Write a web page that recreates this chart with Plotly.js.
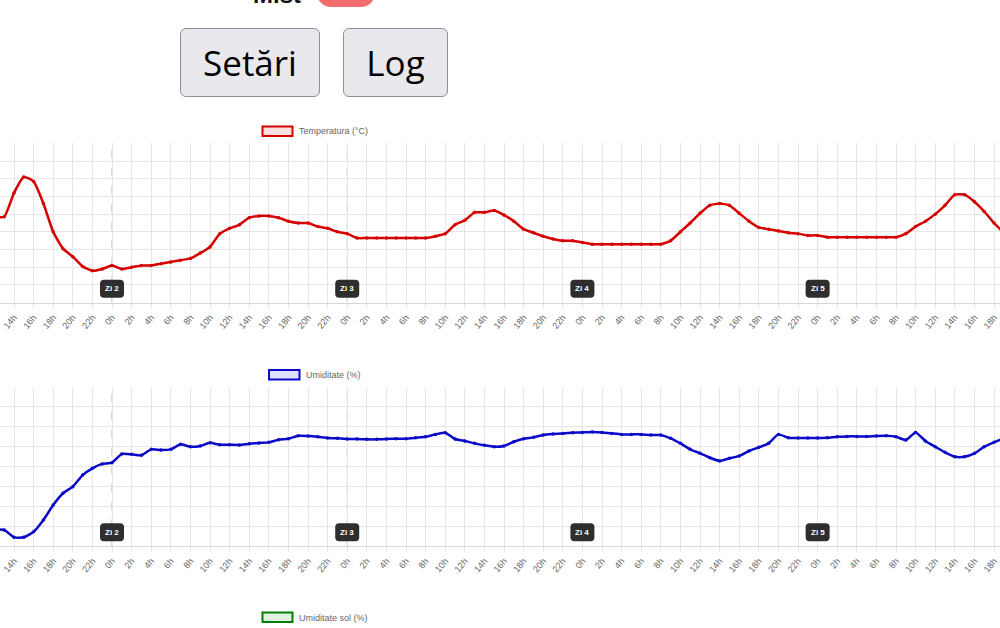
<!DOCTYPE html>
<html>
<head>
<meta charset="utf-8">
<script src="https://cdn.plot.ly/plotly-3.0.1.min.js"></script>
<style>
html,body{margin:0;padding:0;width:1000px;height:628px;overflow:hidden;background:#fff;}
#chart{position:absolute;left:0;top:0;width:1000px;height:628px;}
.btn{position:absolute;top:28px;height:69px;box-sizing:border-box;background:#e9e9ed;border:1px solid #8f8f9d;border-radius:6px;font-family:'Open Sans',sans-serif;font-size:35px;color:#000;display:flex;align-items:center;justify-content:center;z-index:2;}
#mist{position:absolute;left:253px;top:-17px;font-family:'Liberation Sans',Arial,sans-serif;font-weight:bold;font-size:24px;line-height:24px;color:#111;z-index:2;}
#toggle{position:absolute;left:317px;top:-21px;width:58px;height:28px;border-radius:14px;background:#f26d6d;z-index:2;}
</style>
</head>
<body>
<div id="mist">Mist</div>
<div id="toggle"></div>
<div class="btn" style="left:180px;width:140px;">Setări</div>
<div class="btn" style="left:343px;width:105px;">Log</div>
<div id="chart"></div>
<script>
// hour index counted from 0h of day 1 (24 = 0h of "Zi 2")
const hours = [];
for (let h = 12; h <= 115; h++) hours.push(h);

const temperatura = [
  25.7, 25.7, 28.4, 30.2, 29.7, 27.2, 24.0, 22.1, 21.2, 20.1, 19.6, 19.8,
  20.2, 19.8, 20.0, 20.2, 20.2, 20.4, 20.6, 20.8, 21.0, 21.6, 22.3, 23.8,
  24.4, 24.8, 25.6, 25.8, 25.8, 25.6, 25.2, 25.0, 25.0, 24.6, 24.4, 24.0,
  23.8, 23.3, 23.3, 23.3, 23.3, 23.3, 23.3, 23.3, 23.3, 23.5, 23.8, 24.8,
  25.3, 26.2, 26.2, 26.4, 25.9, 25.2, 24.3, 23.9, 23.5, 23.2, 23.0, 23.0,
  22.8, 22.6, 22.6, 22.6, 22.6, 22.6, 22.6, 22.6, 22.6, 23.0, 24.0, 25.0,
  26.1, 27.0, 27.2, 27.0, 26.1, 25.2, 24.5, 24.3, 24.1, 23.9, 23.8, 23.6,
  23.6, 23.4, 23.4, 23.4, 23.4, 23.4, 23.4, 23.4, 23.4, 23.8, 24.6, 25.2,
  26.0, 27.0, 28.2, 28.2, 27.4, 26.3, 25.0, 23.9
];

const umiditate = [
  28.5, 28.2, 24.5, 24.5, 27.3, 33.2, 40.7, 46.6, 49.9, 55.7, 59.1, 61.3,
  61.9, 66.3, 66.1, 65.6, 68.6, 68.3, 68.6, 71.1, 69.9, 70.3, 71.9, 70.9,
  70.9, 70.8, 71.4, 71.8, 72.1, 73.4, 73.9, 75.4, 75.3, 74.9, 74.3, 74.1,
  73.8, 73.8, 73.6, 73.6, 73.8, 73.9, 73.9, 74.4, 74.9, 76.1, 76.9, 73.8,
  72.8, 71.6, 70.6, 69.9, 70.3, 72.4, 73.9, 74.6, 75.8, 76.3, 76.6, 76.9,
  77.1, 77.3, 77.1, 76.6, 76.1, 76.1, 76.1, 75.8, 75.8, 74.1, 71.6, 68.6,
  66.6, 64.4, 62.8, 64.1, 65.3, 67.8, 69.6, 71.6, 76.1, 74.4, 74.3, 74.3,
  74.3, 74.4, 74.9, 75.1, 75.1, 75.1, 75.3, 75.4, 74.9, 73.3, 77.1, 72.8,
  69.9, 67.1, 64.9, 64.9, 66.6, 69.9, 72.1, 74.1
];

const dayHours = [24, 48, 72, 96];
const dayLabels = ['Zi 2', 'Zi 3', 'Zi 4', 'Zi 5'];

const tickHours = [];
for (let h = 14; h <= 114; h += 2) tickHours.push(h);
const tickLabels = tickHours.map(h => (h % 24) + 'h');

const legendNames = ['Temperatura (°C)', 'Umiditate (%)', 'Umiditate sol (%)'];

const FONT = 'Liberation Sans, Arial, sans-serif';
const gridC = '#e6e6e6';

function xAxis(anchor) {
  return {
    range: [12.57, 114.61], tickmode: 'array', tickvals: tickHours, ticktext: tickLabels,
    tickangle: -50, tickfont: {family: FONT, size: 9, color: '#666'},
    showgrid: true, gridcolor: gridC, gridwidth: 1, zeroline: false,
    showline: true, linecolor: '#d6d6d6', ticks: 'outside', ticklen: 5, tickcolor: gridC,
    anchor: anchor, fixedrange: true
  };
}
function yAxis(domain, range, dtick, anchor) {
  return {
    domain: domain, range: range, dtick: dtick, tick0: range[0], showgrid: true, gridcolor: gridC,
    zeroline: false, showticklabels: false, showline: false, anchor: anchor, fixedrange: true
  };
}

const traces = [
  {x: hours, y: temperatura, xaxis: 'x', yaxis: 'y', type: 'scatter', mode: 'lines+markers',
   line: {color: 'rgb(215,0,0)', width: 2.5, shape: 'spline', smoothing: 0.5},
   marker: {color: 'rgb(215,0,0)', size: 3.5}, cliponaxis: true, showlegend: false},
  {x: hours, y: umiditate, xaxis: 'x2', yaxis: 'y2', type: 'scatter', mode: 'lines+markers',
   line: {color: 'rgb(10,10,200)', width: 2.5, shape: 'spline', smoothing: 0.5},
   marker: {color: 'rgb(10,10,200)', size: 3.5}, cliponaxis: true, showlegend: false}
];

const shapes = [];
const annotations = [];
const boxPath = 'M -8,5 L 8,5 Q 12,5 12,9 L 12,19 Q 12,23 8,23 L -8,23 Q -12,23 -12,19 L -12,9 Q -12,5 -8,5 Z';
[['x', 'y'], ['x2', 'y2']].forEach(([xa, ya]) => {
  dayHours.forEach((d, i) => {
    shapes.push({type: 'line', xref: xa, yref: ya + ' domain', x0: d, x1: d, y0: 0, y1: 1,
      line: {color: '#b4b4b4', width: 1, dash: 'dash'}, layer: 'below'});
    shapes.push({type: 'path', xref: xa, xsizemode: 'pixel', xanchor: d,
      yref: ya + ' domain', ysizemode: 'pixel', yanchor: 0, path: boxPath,
      fillcolor: '#2e2e2e', line: {width: 0}});
    annotations.push({x: d, xref: xa, y: 0, yref: ya + ' domain', yshift: 14, yanchor: 'middle',
      text: '<b>' + dayLabels[i] + '</b>', showarrow: false,
      font: {family: FONT, size: 8, color: '#fff'}});
  });
});

// legends (Chart.js style boxes)
const legendPos = [
  {bx0: 262.5, bx1: 292.5, by0: 126.5, by1: 136, tx: 297, ty: 131.3, stroke: 'rgb(215,0,0)', fill: 'rgba(255,0,0,0.12)'},
  {bx0: 269, bx1: 299.5, by0: 370, by1: 379.5, tx: 304, ty: 375, stroke: 'rgb(10,10,200)', fill: 'rgba(0,0,255,0.12)'},
  {bx0: 262.5, bx1: 292.5, by0: 612.5, by1: 622, tx: 297, ty: 617.5, stroke: 'rgb(0,128,0)', fill: 'rgba(0,160,0,0.12)'}
];
legendPos.forEach((p, i) => {
  shapes.push({type: 'rect', xref: 'paper', yref: 'paper', x0: p.bx0 / 1000, x1: p.bx1 / 1000,
    y0: 1 - p.by1 / 628, y1: 1 - p.by0 / 628, fillcolor: p.fill, line: {color: p.stroke, width: 2}});
  annotations.push({xref: 'paper', yref: 'paper', x: p.tx / 1000, y: 1 - p.ty / 628,
    xanchor: 'left', yanchor: 'middle', text: legendNames[i], showarrow: false,
    font: {family: FONT, size: 9, color: '#666'}});
});

const layout = {
  width: 1000, height: 628, margin: {l: 0, r: 0, t: 0, b: 0},
  paper_bgcolor: '#fff', plot_bgcolor: '#fff', showlegend: false,
  xaxis: xAxis('y'),
  yaxis: yAxis([1 - 302.7 / 628, 1 - 143.3 / 628], [16, 34], 2, 'x'),
  xaxis2: xAxis('y2'),
  yaxis2: yAxis([1 - 546.3 / 628, 1 - 386.7 / 628], [20, 100], 10, 'x2'),
  shapes: shapes, annotations: annotations, hovermode: false
};

Plotly.newPlot('chart', traces, layout, {staticPlot: true, displayModeBar: false});
</script>
</body>
</html>
